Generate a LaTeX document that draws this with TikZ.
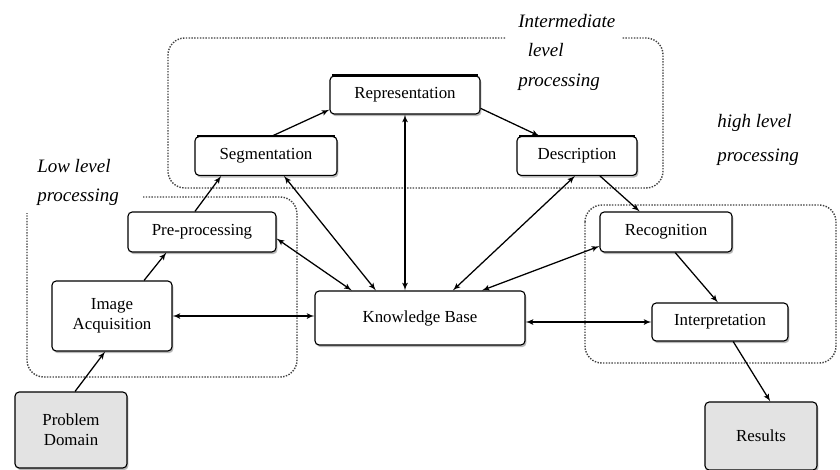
\documentclass[tikz,border=0pt]{standalone}
\usepackage{fontspec}
\setmainfont{Liberation Serif}
\usetikzlibrary{shapes,arrows,positioning,shadows}

\begin{document}
\begin{tikzpicture}[x=0.025cm, y=-0.025cm, block/.style = {rectangle, draw, thick, fill=white, rounded corners=3pt, align=center, font=\fontsize{12}{14}\selectfont, drop shadow={shadow xshift=1pt, shadow yshift=-1.5pt, fill=gray!55, opacity=1}}, endblock/.style = {block, fill=gray!22}, topbar/.style = {line width=1.8pt, shorten <=2pt, shorten >=2pt}, group/.style = {draw=black!75, densely dotted, line width=1pt, rounded corners=12pt}, tag/.style = {align=left, anchor=north west, inner sep=0pt, font=\fontsize{13.5}{21}\selectfont\itshape}, line/.style = {draw, line width=0.9pt, -latex'}, biline/.style = {draw, line width=0.9pt, latex'-latex'}]
			\useasboundingbox (0,0) rectangle (840,469);
			\draw[group] (505,38) -- (168,38) -- (168,188) -- (663,188) -- (663,38) -- (622,38);
			\draw[group] (143,197) -- (297,197) -- (297,377) -- (27,377) -- (27,213);
			\draw[group] (585,205) rectangle (836,363);
			
			\node[tag] (midlbl) at (518,14) {Intermediate\\\hspace{0.5em}level\\processing};
			\node[tag] (highlbl) at (717,114) {high level\\[3pt]processing};
			\node[tag] (lowlbl) at (37,159) {Low level\\processing};
			
			\node[block, minimum width=3.75cm, minimum height=0.95cm] (rep) at (405,95) {Representation};
			\node[block, minimum width=3.55cm, minimum height=0.97cm] (seg) at (266,156) {Segmentation};
			\node[block, minimum width=3.0cm, minimum height=0.97cm] (desc) at (577,156) {Description};
			\node[block, minimum width=3.7cm, minimum height=1.0cm] (pre) at (202,232) {Pre-processing};
			\node[block, minimum width=3.0cm, minimum height=1.75cm] (img) at (112,316) {Image\\Acquisition};
			\node[block, minimum width=5.25cm, minimum height=1.35cm] (kb) at (420,318) {Knowledge Base};
			\node[block, minimum width=3.3cm, minimum height=1.0cm] (rec) at (666,232) {Recognition};
			\node[block, minimum width=3.4cm, minimum height=0.95cm] (interp) at (720,322) {Interpretation};
			\node[endblock, minimum width=2.8cm, minimum height=1.9cm] (prob) at (71,430) {Problem\\Domain};
			\node[endblock, minimum width=2.8cm, minimum height=1.7cm] (res) at (761,436) {Results};
			
			\draw[topbar] (rep.north west) -- (rep.north east);
			\draw[topbar] (seg.north west) -- (seg.north east);
			\draw[topbar] (desc.north west) -- (desc.north east);
			
			\path[line] (seg.73) -- (rep.191);
			\path[line] (rep.350) -- (desc.152);
			\path[line] (pre.109) -- (seg.204);
			\path[line] (img.48) -- (pre.210);
			\path[line] (prob.84) -- (img.259);
			\path[line] (desc.319) -- (rec.142);
			\path[line] (rec.294) -- (interp.96);
			\path[line] (interp.304) -- (res.75);
			\path[biline] (img.east) -- (img.east -| kb.west);
			\path[biline] (interp.west -| kb.east) -- (interp.west);
			\path[biline] (rep.south) -- (rep.south |- kb.north);
			\path[biline] (seg.312) -- (kb.148);
			\path[biline] (pre.355) -- (kb.158);
			\path[biline] (desc.264) -- (kb.40);
			\path[biline] (rec.192) -- (kb.24);
\end{tikzpicture}
\end{document}
